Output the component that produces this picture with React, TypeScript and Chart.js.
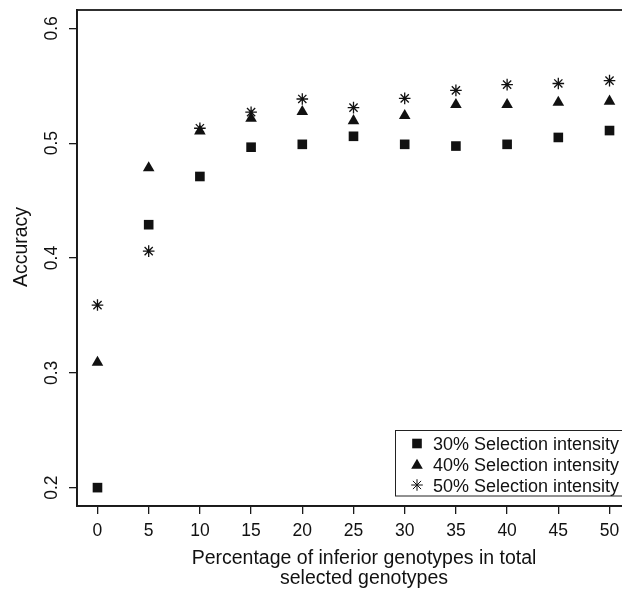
import React, { useEffect, useRef } from "react";
import { Chart, registerables } from "chart.js";
import { drawPoint } from "chart.js/helpers";

Chart.register(...registerables);

// ---- data ----
const percentInferior = [0, 5, 10, 15, 20, 25, 30, 35, 40, 45, 50];
const accuracy30 = [0.2, 0.429, 0.471, 0.4965, 0.499, 0.506, 0.499, 0.4975, 0.499, 0.505, 0.511];
const accuracy40 = [0.309, 0.4785, 0.5105, 0.5215, 0.5275, 0.5195, 0.524, 0.5335, 0.5335, 0.5355, 0.5365];
const accuracy50 = [0.359, 0.406, 0.513, 0.527, 0.5385, 0.531, 0.539, 0.546, 0.551, 0.552, 0.5545];
const xTicks = [0, 5, 10, 15, 20, 25, 30, 35, 40, 45, 50];
const yTicks = [0.2, 0.3, 0.4, 0.5, 0.6];
const seriesLabels = ["30% Selection intensity", "40% Selection intensity", "50% Selection intensity"];
const xTitleLines = ["Percentage of inferior genotypes in total", "selected genotypes"];
const yTitle = "Accuracy";

const FONT = '"Liberation Sans", Arial, Helvetica, sans-serif';
const INK = "#111111";
const CANVAS_W = 660;
const CANVAS_H = 589;

const markers = [
  { pointStyle: "rect", radius: 6.8, borderWidth: 0 },
  { pointStyle: "triangle", radius: 6.7, borderWidth: 0 },
  { pointStyle: "star", radius: 5.8, borderWidth: 1.3 },
];

const decorPlugin = {
  id: "decor",
  afterDraw(chart: any) {
    const ctx = chart.ctx as CanvasRenderingContext2D;
    const { left, right, top, bottom } = chart.chartArea;
    const xs = chart.scales.x;
    const ys = chart.scales.y;
    ctx.save();
    // box around plot
    ctx.strokeStyle = "#1a1a1a";
    ctx.lineWidth = 1.8;
    ctx.strokeRect(left, top, right - left, bottom - top);

    ctx.fillStyle = INK;
    ctx.textBaseline = "alphabetic";
    ctx.textAlign = "center";
    // x tick labels
    ctx.font = `17.5px ${FONT}`;
    xTicks.forEach((t) => ctx.fillText(String(t), xs.getPixelForValue(t), bottom + 30));
    // y tick labels (rotated)
    yTicks.forEach((t) => {
      ctx.save();
      ctx.translate(left - 20, ys.getPixelForValue(t));
      ctx.rotate(-Math.PI / 2);
      ctx.fillText(t.toFixed(1), 0, 0);
      ctx.restore();
    });
    // axis titles
    ctx.font = `19.5px ${FONT}`;
    ctx.fillText(xTitleLines[0], 364, 564);
    ctx.fillText(xTitleLines[1], 364, 584);
    ctx.save();
    ctx.translate(27, 247);
    ctx.rotate(-Math.PI / 2);
    ctx.fillText(yTitle, 0, 0);
    ctx.restore();

    // legend
    ctx.strokeStyle = "#222";
    ctx.lineWidth = 1;
    ctx.strokeRect(395.5, 430.5, 260, 65.5);
    ctx.font = `18px ${FONT}`;
    ctx.textAlign = "left";
    const rowY = [443.5, 464, 485];
    seriesLabels.forEach((lab, i) => {
      ctx.fillStyle = INK;
      ctx.strokeStyle = INK;
      drawPoint(ctx, { ...markers[i], rotation: 0 } as any, 417, rowY[i] + (i === 1 ? 1.5 : 0));
      ctx.fillStyle = INK;
      ctx.fillText(lab, 433, rowY[i] + 6.5);
    });
    ctx.restore();
  },
};

export default function App() {
  const ref = useRef<HTMLCanvasElement | null>(null);
  useEffect(() => {
    if (!ref.current) return;
    const seriesData = [accuracy30, accuracy40, accuracy50];
    const chart = new Chart(ref.current, {
      type: "scatter",
      data: {
        datasets: seriesData.map((vals, i) => ({
          label: seriesLabels[i],
          data: percentInferior.map((x, j) => ({ x, y: vals[j] })),
          pointStyle: markers[i].pointStyle as any,
          pointRadius: markers[i].radius,
          pointHoverRadius: markers[i].radius,
          pointBorderWidth: markers[i].borderWidth,
          backgroundColor: INK,
          borderColor: INK,
          showLine: false,
          order: 2 - i,
        })),
      },
      options: {
        responsive: false,
        animation: false,
        layout: { padding: { top: 10, right: CANVAS_W - 630, left: 0, bottom: 0 } },
        plugins: { legend: { display: false }, tooltip: { enabled: false } },
        scales: {
          x: {
            type: "linear",
            min: -2,
            max: 52,
            afterBuildTicks: (s: any) => {
              s.ticks = xTicks.map((v) => ({ value: v }));
            },
            afterFit: (s: any) => {
              s.height = CANVAS_H - 506;
            },
            ticks: { display: false },
            grid: { drawOnChartArea: false, drawTicks: true, tickLength: 8, color: "#1a1a1a", lineWidth: 1.3 },
            border: { display: true, color: "#1a1a1a", width: 1.8 },
          },
          y: {
            type: "linear",
            min: 0.184,
            max: 0.616,
            afterBuildTicks: (s: any) => {
              s.ticks = yTicks.map((v) => ({ value: v }));
            },
            afterFit: (s: any) => {
              s.width = 77;
            },
            ticks: { display: false },
            grid: { drawOnChartArea: false, drawTicks: true, tickLength: 8, color: "#1a1a1a", lineWidth: 1.3 },
            border: { display: true, color: "#1a1a1a", width: 1.8 },
          },
        },
      },
      plugins: [decorPlugin],
    });
    return () => chart.destroy();
  }, []);

  return (
    <div
      style={{
        position: "fixed",
        left: 0,
        top: 0,
        width: 622,
        height: 589,
        overflow: "hidden",
        background: "#fff",
      }}
    >
      <canvas ref={ref} width={CANVAS_W} height={CANVAS_H} style={{ display: "block" }} />
    </div>
  );
}
